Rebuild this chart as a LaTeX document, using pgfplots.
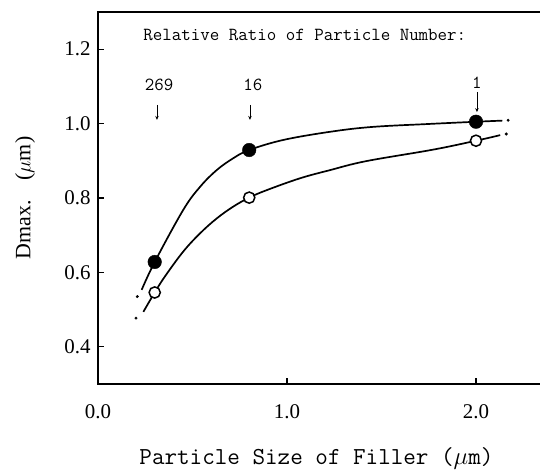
\documentclass[border=0pt]{standalone}
\usepackage{pgfplots}
\pgfplotsset{compat=1.18}
\usepackage{fontspec}
\setmainfont{Liberation Serif}
\usetikzlibrary{arrows.meta}
\begin{document}
\begin{tikzpicture}
\begin{axis}[
  scale only axis,
  width=444bp, height=372bp,
  xmin=0, xmax=2.3492, ymin=0.3, ymax=1.3,
  axis line style={line width=1.8bp},
  xtick={0,1,2}, ytick={0.4,0.6,0.8,1.0,1.2},
  xtick pos=left, ytick pos=left,
  tick align=inside,
  major tick length=6bp,
  every tick/.style={line width=1.3bp, black},
  /pgf/number format/.cd, fixed, fixed zerofill, precision=1, assume math mode=true,
  /pgfplots/.cd,
  ticklabel style={font=\fontsize{21}{21}\selectfont},
  xticklabel style={yshift=-17bp},
  yticklabel style={xshift=-4bp},
  xlabel={\ttfamily\fontsize{24.5}{25}\selectfont Particle Size of Filler ($\mu$m)},
  every axis x label/.style={at={(rel axis cs:0.492,-0.199)}, anchor=center},
  ylabel={\fontsize{22}{22}\selectfont Dmax.\hspace{0.9em}($\mu$m)},
  every axis y label/.style={at={(rel axis cs:-0.164,0.5)}, rotate=90, anchor=center},
  clip=false,
]
\coordinate (SW) at (rel axis cs:0,0);
\coordinate (NE) at (rel axis cs:1,1);
\draw[line width=1.8bp] (rel axis cs:0,1) -- (rel axis cs:1,1);
% filled series curve
\addplot[black, line width=1.7bp, smooth, tension=0.6] coordinates {
 (0.231,0.553) (0.3,0.628) (0.451,0.768) (0.54,0.830) (0.628,0.875)
 (0.716,0.907) (0.8,0.929) (0.98,0.956) (1.228,0.978) (1.45,0.991) (1.75,0.999) (2.0,1.005) (2.14,1.008)};
% open series curve
\addplot[black, line width=1.7bp, smooth, tension=0.6] coordinates {
 (0.24,0.494) (0.3,0.546) (0.354,0.589) (0.451,0.656) (0.54,0.705) (0.628,0.745)
 (0.716,0.777) (0.8,0.801) (0.892,0.821) (1.069,0.853) (1.228,0.875) (1.418,0.899)
 (1.773,0.930) (2.0,0.954) (2.128,0.969)};
% end dots of the curves
\addplot[only marks, mark=*, mark size=1.3bp, black] coordinates {
 (0.208,0.535) (2.17,1.009) (0.201,0.477) (2.16,0.972)};
% filled markers
\addplot[only marks, mark=*, mark size=6.8bp, black] coordinates {
 (0.3,0.628) (0.8,0.929) (2.0,1.005)};
% open markers
\addplot[only marks, mark=*, mark size=5.6bp, black, fill=white, line width=1.5bp] coordinates {
 (0.3,0.546) (0.8,0.801) (2.0,0.954)};
\node[anchor=west, font=\ttfamily\fontsize{18.5}{18.5}\selectfont] at (axis cs:0.222,1.238) {Relative Ratio of Particle Number:};
\node[font=\ttfamily\fontsize{18.5}{18.5}\selectfont] at (axis cs:0.323,1.104) {269};
\node[font=\ttfamily\fontsize{18.5}{18.5}\selectfont] at (axis cs:0.82,1.104) {16};
\node[font=\ttfamily\fontsize{18.5}{18.5}\selectfont] at (axis cs:2.005,1.109) {1};
\draw[-{Stealth[length=4bp,width=3.5bp]}, line width=0.9bp] (axis cs:0.312,1.05) -- (axis cs:0.312,1.01);
\draw[-{Stealth[length=4bp,width=3.5bp]}, line width=0.9bp] (axis cs:0.804,1.05) -- (axis cs:0.804,1.01);
\draw[-{Stealth[length=4bp,width=3.5bp]}, line width=0.9bp] (axis cs:2.005,1.085) -- (axis cs:2.005,1.031);
\end{axis}
\pgfresetboundingbox
\path ([shift={(-98bp,-86bp)}]SW) rectangle ([shift={(-2bp,12bp)}]NE);
\end{tikzpicture}
\end{document}
